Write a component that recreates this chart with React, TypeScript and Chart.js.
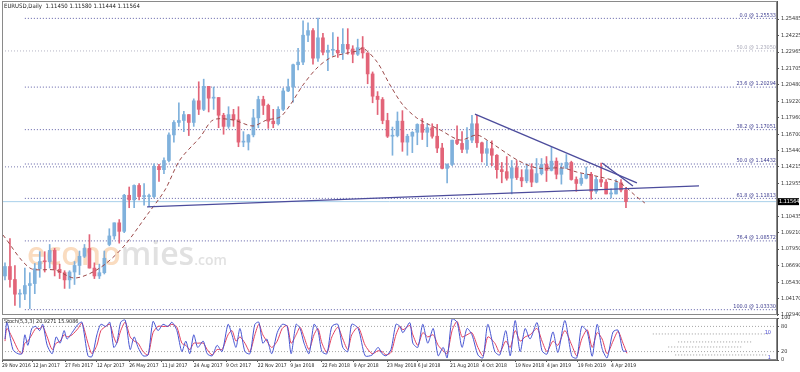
import React, { useEffect, useRef } from "react";
import { Chart, registerables } from "chart.js";

Chart.register(...registerables);

const FONT = "'Liberation Sans Narrow','DejaVu Sans Condensed','Liberation Sans',sans-serif";

// ---- Weekly EURUSD candles (Nov 2016 .. Apr 2019) ----
const weekOpen = [
  1.0590, 1.0662, 1.0563, 1.0451, 1.0453, 1.0517, 1.0532, 1.0645, 1.0700, 1.0698,
  1.0785, 1.0640, 1.0615, 1.0560, 1.0620, 1.0670, 1.0740, 1.0800, 1.0650, 1.0590,
  1.0615, 1.0830, 1.0895, 1.0995, 1.0930, 1.1205, 1.1170, 1.1280, 1.1195, 1.1195,
  1.1195, 1.1425, 1.1400, 1.1470, 1.1665, 1.1760, 1.1775, 1.1820, 1.1760, 1.1925,
  1.1860, 1.2035, 1.1945, 1.1950, 1.1815, 1.1730, 1.1820, 1.1780, 1.1610, 1.1610,
  1.1665, 1.1795, 1.1935, 1.1890, 1.1770, 1.1750, 1.1860, 1.2000, 1.2030, 1.2200,
  1.2220, 1.2425, 1.2460, 1.2250, 1.2405, 1.2295, 1.2310, 1.2310, 1.2290, 1.2355,
  1.2320, 1.2280, 1.2330, 1.2290, 1.2130, 1.1960, 1.1935, 1.1775, 1.1655, 1.1660,
  1.1770, 1.1610, 1.1655, 1.1685, 1.1745, 1.1685, 1.1720, 1.1655, 1.1565, 1.1410,
  1.1440, 1.1625, 1.1600, 1.1555, 1.1625, 1.1750, 1.1605, 1.1525, 1.1560, 1.1510,
  1.1400, 1.1385, 1.1335, 1.1415, 1.1340, 1.1315, 1.1400, 1.1305, 1.1370, 1.1440,
  1.1395, 1.1465, 1.1365, 1.1410, 1.1455, 1.1325, 1.1295, 1.1335, 1.1365, 1.1235,
  1.1325, 1.1305, 1.1215, 1.1215, 1.1300, 1.1245,
];
const weekHigh = [
  1.0690, 1.0874, 1.0670, 1.0487, 1.0650, 1.0615, 1.0685, 1.0775, 1.0775, 1.0830,
  1.0800, 1.0680, 1.0630, 1.0630, 1.0700, 1.0780, 1.0830, 1.0905, 1.0690, 1.0680,
  1.0780, 1.0950, 1.0995, 1.1020, 1.1212, 1.1268, 1.1285, 1.1295, 1.1295, 1.1215,
  1.1445, 1.1440, 1.1490, 1.1680, 1.1775, 1.1910, 1.1845, 1.1820, 1.1940, 1.2070,
  1.2090, 1.2035, 1.2030, 1.1950, 1.1830, 1.1880, 1.1860, 1.1880, 1.1690, 1.1670,
  1.1860, 1.1960, 1.1960, 1.1900, 1.1860, 1.1880, 1.2020, 1.2090, 1.2205, 1.2325,
  1.2535, 1.2520, 1.2475, 1.2555, 1.2440, 1.2350, 1.2445, 1.2410, 1.2475, 1.2475,
  1.2345, 1.2395, 1.2415, 1.2290, 1.2145, 1.1995, 1.1950, 1.1830, 1.1725, 1.1840,
  1.1850, 1.1670, 1.1690, 1.1750, 1.1790, 1.1750, 1.1750, 1.1745, 1.1600, 1.1445,
  1.1625, 1.1735, 1.1690, 1.1720, 1.1815, 1.1815, 1.1610, 1.1620, 1.1620, 1.1515,
  1.1455, 1.1500, 1.1470, 1.1470, 1.1400, 1.1445, 1.1445, 1.1485, 1.1485, 1.1500,
  1.1570, 1.1490, 1.1450, 1.1515, 1.1465, 1.1345, 1.1370, 1.1420, 1.1380, 1.1345,
  1.1450, 1.1325, 1.1255, 1.1325, 1.1325, 1.1265,
];
const weekLow = [
  1.0560, 1.0505, 1.0365, 1.0350, 1.0410, 1.0340, 1.0455, 1.0580, 1.0620, 1.0650,
  1.0590, 1.0570, 1.0495, 1.0495, 1.0525, 1.0600, 1.0730, 1.0650, 1.0570, 1.0570,
  1.0605, 1.0820, 1.0870, 1.0840, 1.0920, 1.1110, 1.1110, 1.1170, 1.1130, 1.1118,
  1.1185, 1.1310, 1.1370, 1.1460, 1.1610, 1.1730, 1.1690, 1.1660, 1.1730, 1.1820,
  1.1850, 1.1840, 1.1860, 1.1720, 1.1670, 1.1715, 1.1730, 1.1575, 1.1575, 1.1550,
  1.1650, 1.1720, 1.1820, 1.1715, 1.1720, 1.1740, 1.1850, 1.1995, 1.1915, 1.2160,
  1.2200, 1.2375, 1.2205, 1.2225, 1.2275, 1.2155, 1.2270, 1.2255, 1.2240, 1.2280,
  1.2215, 1.2270, 1.2250, 1.2055, 1.1910, 1.1820, 1.1750, 1.1645, 1.1510, 1.1650,
  1.1540, 1.1510, 1.1530, 1.1590, 1.1630, 1.1575, 1.1640, 1.1530, 1.1405, 1.1300,
  1.1430, 1.1590, 1.1530, 1.1525, 1.1605, 1.1570, 1.1460, 1.1430, 1.1430, 1.1335,
  1.1300, 1.1320, 1.1215, 1.1325, 1.1270, 1.1300, 1.1270, 1.1300, 1.1360, 1.1310,
  1.1390, 1.1330, 1.1290, 1.1410, 1.1320, 1.1235, 1.1280, 1.1330, 1.1175, 1.1220,
  1.1270, 1.1215, 1.1185, 1.1215, 1.1230, 1.1110,
];
const weekClose = [
  1.0662, 1.0563, 1.0451, 1.0453, 1.0517, 1.0532, 1.0645, 1.0700, 1.0698, 1.0785,
  1.0640, 1.0615, 1.0560, 1.0620, 1.0670, 1.0740, 1.0800, 1.0650, 1.0590, 1.0615,
  1.0725, 1.0895, 1.0995, 1.0930, 1.1205, 1.1170, 1.1280, 1.1195, 1.1195, 1.1195,
  1.1425, 1.1400, 1.1470, 1.1665, 1.1760, 1.1775, 1.1820, 1.1760, 1.1925, 1.1860,
  1.2035, 1.1945, 1.1950, 1.1815, 1.1730, 1.1820, 1.1780, 1.1610, 1.1610, 1.1665,
  1.1795, 1.1935, 1.1890, 1.1770, 1.1750, 1.1860, 1.2000, 1.2030, 1.2200, 1.2220,
  1.2425, 1.2460, 1.2250, 1.2405, 1.2295, 1.2310, 1.2310, 1.2290, 1.2355, 1.2320,
  1.2280, 1.2330, 1.2290, 1.2130, 1.1960, 1.1935, 1.1775, 1.1655, 1.1660, 1.1770,
  1.1610, 1.1655, 1.1685, 1.1745, 1.1685, 1.1720, 1.1655, 1.1565, 1.1410, 1.1440,
  1.1625, 1.1600, 1.1555, 1.1625, 1.1750, 1.1605, 1.1525, 1.1560, 1.1510, 1.1400,
  1.1385, 1.1335, 1.1415, 1.1340, 1.1315, 1.1400, 1.1305, 1.1370, 1.1440, 1.1395,
  1.1465, 1.1365, 1.1410, 1.1455, 1.1325, 1.1295, 1.1335, 1.1365, 1.1235, 1.1325,
  1.1305, 1.1215, 1.1215, 1.1300, 1.1245, 1.11564,
];

// ---- Moving average (dashed), read at sparse points: x in weeks, y in price ----
const maX = [-0.4, 5.0, 10.1, 14.1, 19.1, 23.8, 28.6, 32.2, 35.2, 39.3, 41.9, 45.9, 49.9, 52.7, 55.4, 57.4, 60.0, 62.8, 65.4, 68.0, 70.9, 72.1, 74.9, 77.5, 80.1, 82.9, 85.5, 87.6, 91.6, 95.0, 97.6, 103.1, 107.1, 112.3, 115.1, 119.8, 123.8, 127.2, 128.8];
const maY = [1.0902, 1.0651, 1.0635, 1.0574, 1.0651, 1.0811, 1.1055, 1.1245, 1.1474, 1.1649, 1.1779, 1.1779, 1.1733, 1.1779, 1.1802, 1.1893, 1.2046, 1.2175, 1.2251, 1.2282, 1.2305, 1.2327, 1.2221, 1.2046, 1.1893, 1.1794, 1.1741, 1.1703, 1.1626, 1.1664, 1.1611, 1.1474, 1.1413, 1.1413, 1.1382, 1.1344, 1.1299, 1.1192, 1.1146];

// ---- Fibonacci levels ----
const fibLevels = [1.25533, 1.2305, 1.20294, 1.17051, 1.14432, 1.11813, 1.08572, 1.0333];
const fibNames = ["0.0 @ 1.25533", "50.0 @ 1.23050", "23.6 @ 1.20294", "38.2 @ 1.17051", "50.0 @ 1.14432", "61.8 @ 1.11813", "76.4 @ 1.08572", "100.0 @ 1.03330"];
const fibFrom = [4.0, -0.6, 4.0, 4.0, 4.0, 4.0, 4.0, 4.0];
const fibMuted = [false, true, false, false, false, false, false, false];
const supportLevels = [1.14215];
const lastPrice = 1.11564;

// ---- Trend lines: [x1 (week), price1, x2 (week), price2] ----
const trendLines = [
  [28.6, 1.1116, 139.7, 1.1276],
  [94.6, 1.1824, 127.2, 1.1299],
  [120.2, 1.1451, 126.4, 1.1276],
];

// ---- Axis ticks ----
const priceTicks = [1.25485, 1.24225, 1.22965, 1.21705, 1.2048, 1.1922, 1.1796, 1.167, 1.1544, 1.14215, 1.12955, 1.10435, 1.0921, 1.0795, 1.0669, 1.0543, 1.0417, 1.0294];
const dateTickPos = [-0.6, 5.6, 12.1, 18.5, 25.0, 31.6, 38.0, 44.5, 50.9, 57.4, 63.8, 70.2, 76.9, 83.1, 89.6, 96.0, 102.7, 109.1, 115.3, 122.0];
const dateTickLabels = ["29 Nov 2016", "12 Jan 2017", "27 Feb 2017", "12 Apr 2017", "26 May 2017", "11 Jul 2017", "24 Aug 2017", "9 Oct 2017", "22 Nov 2017", "9 Jan 2018", "22 Feb 2018", "9 Apr 2018", "23 May 2018", "6 Jul 2018", "21 Aug 2018", "4 Oct 2018", "19 Nov 2018", "4 Jan 2019", "19 Feb 2019", "4 Apr 2019"];

// ---- Stochastic (5,3,3) ----
const stochX = [
  0.0, 0.4, 1.6, 2.6, 3.4, 4.0, 4.6, 5.4, 6.2, 7.0,
  7.6, 8.5, 9.5, 10.3, 11.1, 11.9, 12.5, 13.5, 14.7, 15.5,
  16.7, 17.5, 18.5, 19.3, 20.3, 21.1, 21.9, 22.5, 23.3, 24.2,
  25.2, 26.0, 26.8, 27.8, 28.8, 29.8, 30.8, 31.8, 32.8, 33.6,
  34.6, 35.6, 36.4, 37.2, 38.0, 38.8, 39.9, 40.7, 41.7, 42.7,
  43.7, 44.9, 45.7, 46.5, 47.3, 48.3, 49.3, 50.3, 51.1, 51.9,
  52.7, 53.7, 54.8, 55.8, 56.8, 57.6, 58.6, 59.4, 60.2, 61.2,
  62.2, 63.0, 63.8, 64.8, 65.8, 67.0, 68.0, 69.0, 69.8, 71.1,
  72.5, 73.9, 75.1, 75.9, 76.7, 77.7, 78.7, 79.5, 80.1, 81.5,
  82.1, 83.1, 84.1, 85.1, 86.2, 87.2, 88.2, 89.0, 90.0, 91.0,
  92.0, 93.0, 94.0, 95.2, 96.2, 97.2, 98.6, 99.6, 100.8, 101.7,
  102.7, 103.7, 104.7, 105.7, 107.1, 108.1, 109.1, 110.3, 111.3, 112.7,
  114.1, 115.1, 116.1, 117.2, 118.2, 119.2, 120.2, 121.2, 122.4, 123.4,
  124.4, 125.2,
];
const stochK = [
  50, 90, 25, 15, 15, 60, 35, 75, 80, 70,
  85, 35, 15, 55, 40, 70, 50, 65, 85, 90,
  10, 8, 60, 85, 80, 90, 30, 40, 90, 95,
  25, 55, 30, 10, 12, 92, 70, 85, 80, 90,
  70, 20, 45, 15, 60, 30, 45, 15, 10, 35,
  20, 85, 60, 30, 75, 20, 15, 85, 90, 40,
  50, 15, 65, 85, 80, 15, 85, 75, 40, 15,
  85, 70, 20, 15, 80, 85, 30, 20, 85, 75,
  10, 12, 30, 15, 10, 25, 85, 80, 65, 89,
  40, 30, 85, 40, 75, 10, 30, 5, 98, 90,
  30, 75, 60, 12, 5, 85, 20, 12, 70, 10,
  94, 20, 75, 50, 89, 22, 14, 67, 18, 94,
  9, 5, 80, 67, 9, 85, 27, 5, 67, 71,
  22, 21,
];
const stochD = [
  45, 75, 50, 25, 15, 40, 45, 60, 75, 75,
  80, 55, 25, 40, 45, 60, 55, 60, 75, 88,
  40, 15, 35, 70, 80, 85, 55, 40, 70, 90,
  55, 45, 40, 20, 12, 65, 80, 80, 80, 85,
  78, 40, 35, 25, 40, 40, 40, 25, 12, 25,
  25, 60, 70, 45, 55, 40, 20, 60, 85, 60,
  45, 30, 45, 75, 82, 40, 60, 78, 55, 25,
  60, 75, 40, 18, 55, 78, 50, 25, 60, 78,
  35, 15, 22, 20, 12, 18, 60, 80, 72, 82,
  60, 35, 65, 55, 60, 35, 22, 15, 70, 92,
  55, 60, 65, 30, 10, 55, 40, 18, 45, 30,
  70, 45, 55, 60, 75, 45, 20, 45, 35, 70,
  35, 10, 50, 72, 30, 65, 50, 15, 45, 68,
  40, 16,
];
const stochLevels = [80, 20];
const stochTicks = [0, 20, 80, 100];
// small dotted marks in the right part of the stochastic panel: [value, x1, x2]
const stochMarks = [
  [62, 130.4, 154.0],
  [43, 135.5, 150.4],
  [31, 133.5, 148.6],
  [12, 134.9, 153.4],
];

// ---- axis ranges ----
const X_MIN = -0.6;
const X_MAX = 155.4;
const Y_MIN = 1.02924;
const Y_MAX = 1.26857;

const UP = "#7fb1dc";
const DOWN = "#e26478";

const mainDecor: any = {
  id: "mainDecor",
  beforeDatasetsDraw(chart: any) {
    const ctx = chart.ctx;
    ctx.save();
    ctx.font = "600 32px 'Open Sans', sans-serif";
    ctx.textBaseline = "alphabetic";
    ctx.textAlign = "left";
    ctx.fillStyle = "rgba(246, 186, 130, 0.5)";
    ctx.fillText("econo", 27, 265);
    const w = ctx.measureText("econo").width;
    ctx.fillStyle = "rgba(195, 195, 195, 0.5)";
    ctx.fillText("mies", 27 + w, 265);
    const w2 = ctx.measureText("mies").width;
    ctx.font = "600 14px 'Open Sans', sans-serif";
    ctx.fillText(".com", 27 + w + w2, 265);
    ctx.restore();
  },
  afterDraw(chart: any) {
    const { ctx, chartArea: a, scales } = chart;
    ctx.save();
    // frame
    ctx.strokeStyle = "#8a8a8a";
    ctx.lineWidth = 1;
    ctx.strokeRect(a.left + 0.5, a.top + 0.5, a.right - a.left - 1, a.bottom - a.top - 1);
    // fib labels
    ctx.font = `5.5px ${FONT}`;
    ctx.textAlign = "right";
    ctx.textBaseline = "bottom";
    fibLevels.forEach((lv, i) => {
      const y = scales.y.getPixelForValue(lv);
      ctx.fillStyle = fibMuted[i] ? "#a8a8b8" : "#3b3b8f";
      ctx.fillText(fibNames[i], a.right - 1, y - 0.5);
    });
    // header
    ctx.textAlign = "left";
    ctx.textBaseline = "middle";
    ctx.fillStyle = "#222";
    ctx.font = `6px ${FONT}`;
    ctx.fillText("EURUSD,Daily  1.11450 1.11580 1.11444 1.11564", 4, 6);
    // current price box
    const py = scales.y.getPixelForValue(lastPrice);
    ctx.fillStyle = "#000";
    ctx.fillRect(a.right + 1, py - 3.5, 21, 7);
    ctx.fillStyle = "#fff";
    ctx.font = `5.5px ${FONT}`;
    ctx.fillText(lastPrice.toFixed(5), a.right + 2, py + 0.3);
    ctx.restore();
  },
};

const stochDecor: any = {
  id: "stochDecor",
  afterDraw(chart: any) {
    const { ctx, chartArea: a, scales } = chart;
    ctx.save();
    ctx.strokeStyle = "#8a8a8a";
    ctx.lineWidth = 1;
    ctx.strokeRect(a.left + 0.5, a.top + 0.5, a.right - a.left - 1, a.bottom - a.top - 1);
    ctx.font = `5.5px ${FONT}`;
    ctx.textAlign = "left";
    ctx.textBaseline = "middle";
    ctx.fillStyle = "#222";
    ctx.fillText("Stoch(5,3,3) 20.9271 15.9086", 4, a.top + 4);
    ctx.fillStyle = "#4a4ad0";
    ctx.textAlign = "right";
    ctx.fillText("10", a.right - 6, scales.y.getPixelForValue(66));
    ctx.fillText("1", a.right - 6, scales.y.getPixelForValue(6));
    ctx.restore();
  },
};

function mainConfig(): any {
  const idx = weekClose.map((_, i) => i);
  const colors = idx.map((i) => (weekClose[i] >= weekOpen[i] ? UP : DOWN));
  const datasets: any[] = [];
  // current price line
  datasets.push({
    type: "line",
    data: [{ x: X_MIN, y: lastPrice }, { x: X_MAX, y: lastPrice }],
    borderColor: "#a9d0ea",
    borderWidth: 1,
    pointRadius: 0,
    order: 7,
  });
  fibLevels.forEach((lv, i) => {
    datasets.push({
      type: "line",
      data: [{ x: fibFrom[i], y: lv }, { x: X_MAX, y: lv }],
      borderColor: fibMuted[i] ? "#b4b4c4" : "#5d5da6",
      borderWidth: 1,
      borderDash: [1, 2],
      pointRadius: 0,
      order: 6,
    });
  });
  supportLevels.forEach((lv) => {
    datasets.push({
      type: "line",
      data: [{ x: X_MIN, y: lv }, { x: X_MAX, y: lv }],
      borderColor: "#7a7ab0",
      borderWidth: 1,
      borderDash: [1, 2],
      pointRadius: 0,
      order: 6,
    });
  });
  datasets.push({
    type: "bar",
    data: idx.map((i) => ({ x: i, y: [weekLow[i], weekHigh[i]] })),
    backgroundColor: colors,
    barThickness: 1,
    grouped: false,
    order: 5,
  });
  datasets.push({
    type: "bar",
    data: idx.map((i) => ({ x: i, y: [weekOpen[i], weekClose[i]] })),
    backgroundColor: colors,
    barThickness: 3,
    minBarLength: 1,
    grouped: false,
    order: 4,
  });
  datasets.push({
    type: "line",
    data: maX.map((x, i) => ({ x, y: maY[i] })),
    borderColor: "#9a4848",
    borderWidth: 1,
    borderDash: [4, 3],
    pointRadius: 0,
    tension: 0.3,
    order: 3,
  });
  trendLines.forEach((t) => {
    datasets.push({
      type: "line",
      data: [{ x: t[0], y: t[1] }, { x: t[2], y: t[3] }],
      borderColor: "#4c4c9c",
      borderWidth: 1.3,
      pointRadius: 0,
      order: 2,
    });
  });
  return {
    type: "bar",
    data: { datasets },
    plugins: [mainDecor],
    options: {
      animation: false,
      responsive: false,
      maintainAspectRatio: false,
      events: [],
      layout: { padding: { left: 2, top: 1, right: 0, bottom: 1 } },
      plugins: { legend: { display: false }, tooltip: { enabled: false } },
      scales: {
        x: { type: "linear", min: X_MIN, max: X_MAX, offset: false, display: false },
        y: {
          position: "right",
          min: Y_MIN,
          max: Y_MAX,
          afterBuildTicks: (s: any) => {
            s.ticks = priceTicks.map((v) => ({ value: v }));
          },
          afterFit: (s: any) => {
            s.width = 23;
            s.paddingTop = 0;
            s.paddingBottom = 0;
          },
          ticks: {
            autoSkip: false,
            padding: 2,
            color: "#333",
            font: { family: FONT, size: 5.5 },
            callback: (v: any) => Number(v).toFixed(5),
          },
          grid: { drawOnChartArea: false, drawTicks: true, tickLength: 2, color: "#555" },
          border: { display: true, color: "#555" },
        },
      },
    },
  };
}

function stochConfig(): any {
  const datasets: any[] = [];
  stochLevels.forEach((lv) => {
    datasets.push({
      data: [{ x: X_MIN, y: lv }, { x: X_MAX, y: lv }],
      borderColor: "#a5a5a5",
      borderWidth: 1,
      borderDash: [1, 2],
      pointRadius: 0,
      order: 5,
    });
  });
  stochMarks.forEach((m) => {
    datasets.push({
      data: [{ x: m[1], y: m[0] }, { x: m[2], y: m[0] }],
      borderColor: "#9c9c9c",
      borderWidth: 1,
      borderDash: [1, 2],
      pointRadius: 0,
      order: 5,
    });
  });
  datasets.push({
    data: stochX.map((x, i) => ({ x, y: stochD[i] })),
    borderColor: "#e2405e",
    borderWidth: 1,
    pointRadius: 0,
    tension: 0.25,
    order: 2,
  });
  datasets.push({
    data: stochX.map((x, i) => ({ x, y: stochK[i] })),
    borderColor: "#4654d2",
    borderWidth: 1,
    pointRadius: 0,
    tension: 0.25,
    order: 1,
  });
  return {
    type: "line",
    data: { datasets },
    plugins: [stochDecor],
    options: {
      animation: false,
      responsive: false,
      maintainAspectRatio: false,
      events: [],
      layout: { padding: { left: 2, top: 6, right: 0, bottom: 0 } },
      plugins: { legend: { display: false }, tooltip: { enabled: false } },
      scales: {
        x: {
          type: "linear",
          min: X_MIN,
          max: X_MAX,
          offset: false,
          afterBuildTicks: (s: any) => {
            s.ticks = dateTickPos.map((v) => ({ value: v }));
          },
          afterFit: (s: any) => {
            s.height = 12;
            s.paddingLeft = 0;
            s.paddingRight = 0;
          },
          ticks: {
            autoSkip: false,
            maxRotation: 0,
            minRotation: 0,
            align: "start",
            padding: 1,
            color: "#222",
            font: { family: FONT, size: 5 },
            callback: (_v: any, i: number) => dateTickLabels[i],
          },
          grid: { drawOnChartArea: false, drawTicks: true, tickLength: 2, color: "#555" },
          border: { display: true, color: "#666" },
        },
        y: {
          position: "right",
          min: 0,
          max: 100,
          afterBuildTicks: (s: any) => {
            s.ticks = stochTicks.map((v) => ({ value: v }));
          },
          afterFit: (s: any) => {
            s.width = 23;
            s.paddingTop = 0;
            s.paddingBottom = 0;
          },
          ticks: {
            autoSkip: false,
            padding: 2,
            color: "#333",
            font: { family: FONT, size: 5.5 },
            callback: (v: any) => String(v),
          },
          grid: { drawOnChartArea: false, drawTicks: true, tickLength: 2, color: "#555" },
          border: { display: true, color: "#555" },
        },
      },
    },
  };
}

export default function App() {
  const mainRef = useRef<HTMLCanvasElement>(null);
  const stochRef = useRef<HTMLCanvasElement>(null);
  useEffect(() => {
    const c1 = new Chart(mainRef.current as HTMLCanvasElement, mainConfig());
    const c2 = new Chart(stochRef.current as HTMLCanvasElement, stochConfig());
    return () => {
      c1.destroy();
      c2.destroy();
    };
  }, []);
  return (
    <div style={{ position: "absolute", left: 0, top: 0, width: 800, height: 372, background: "#fff", overflow: "hidden" }}>
      <canvas ref={mainRef} width={800} height={316} style={{ position: "absolute", left: 0, top: 0, width: 800, height: 316 }} />
      <canvas ref={stochRef} width={800} height={60} style={{ position: "absolute", left: 0, top: 312, width: 800, height: 60 }} />
    </div>
  );
}
